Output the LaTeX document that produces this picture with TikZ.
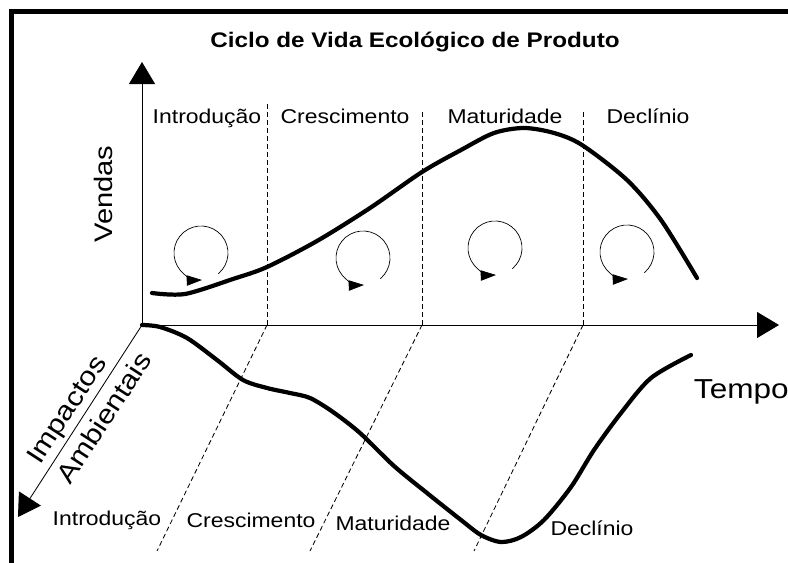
\documentclass[tikz,border=0pt]{standalone}
\usepackage{fontspec}
\setmainfont{Liberation Sans}[FakeStretch=1.15]
\usetikzlibrary{arrows.meta,calc}

\begin{document}
\begin{tikzpicture}[x=0.025cm,y=-0.025cm,
    axisArrow/.style={line width=0.6pt,-{Triangle[length=0.55cm,width=0.65cm]}},
    phaseLine/.style={line width=0.6pt,dash pattern=on 3.5pt off 2.2pt},
    cycleArrow/.style={line width=0.5pt,-{Triangle[length=0.38cm,width=0.26cm]}},
    lifeCurve/.style={line width=3pt,line cap=round,line join=round},
    phaseLabel/.style={font=\fontsize{14.2}{17}\selectfont,anchor=base},
    axisLabel/.style={font=\fontsize{19.5}{24}\selectfont}]

  \useasboundingbox (0,0) rectangle (788,563);

  % draw the frame
  \draw[line width=3.6pt] (11.5,600) -- (11.5,11.5) -- (820,11.5);

  % title
  \node[font=\fontsize{15}{18}\selectfont\bfseries,anchor=base] (title) at (415,48) {Ciclo de Vida Ecológico de Produto};

  % draw the axes
  \coordinate (O) at (142,325);
  \coordinate (salesEnd) at (142,62);
  \coordinate (timeEnd) at (779,325);
  \coordinate (impactEnd) at (18,517);
  \draw[axisArrow] (O) -- (salesEnd);
  \draw[axisArrow] (O) -- (timeEnd);
  \draw[axisArrow] (O) -- (impactEnd);

  \node[font=\fontsize{18}{21}\selectfont,rotate=90,anchor=base] (sales) at (112,194) {Vendas};
  \node[axisLabel,anchor=base west] (time) at (689,398) {Tempo};
  \node[font=\fontsize{18.8}{26}\selectfont,rotate=57,align=left] (impact) at (89,408) {Impactos\\Ambientais};

  % draw the phase borders
  \def\phases{267/104/157,422/112/310,583/112/474}
  \foreach \x/\ytop/\xb [count=\ni] in \phases
  {
    \coordinate (p\ni) at (\x,325);
    \draw[phaseLine] (\x,\ytop) -- (p\ni);
    \draw[phaseLine] (p\ni) -- (\xb,551);
  }

  % label the phases
  \def\topLabels{207/Introdução,345/Crescimento,505/Maturidade,648/Declínio}
  \foreach \x/\name [count=\ni] in \topLabels
    \node[phaseLabel] (top\ni) at (\x,124) {\name};

  \def\bottomLabels{107/525/Introdução,251/527/Crescimento,393/530/Maturidade,592/535/Declínio}
  \foreach \x/\y/\name [count=\ni] in \bottomLabels
    \node[phaseLabel] (bottom\ni) at (\x,\y) {\name};

  % sales curve
  \draw[lifeCurve] plot[smooth] coordinates {(152,293) (185,294) (233,279) (267,267) (317,241)
    (370,208) (422,172) (461,150) (494,133) (524,128) (554,133) (582,145) (627,180) (661,220) (697,278)};

  % impact curve
  \draw[lifeCurve] plot[smooth] coordinates {(142,325) (160,327) (187,338) (217,360) (243,380)
    (267,388) (290,393) (310,398) (333,412) (360,433) (394,466) (427,493) (461,520) (481,535)
    (501,542) (521,537) (544,520) (571,487) (594,450) (621,413) (651,378) (691,355)};

  % draw the cycles
  \def\cycles{201/253,363/258,495/248,627/252}
  \foreach \cx/\cy [count=\ni] in \cycles
  {
    \coordinate (c\ni) at (\cx,\cy);
    \draw[cycleArrow] (c\ni) ++(-50:0.675cm) arc[start angle=-50,end angle=272,radius=0.675cm];
  }

\end{tikzpicture}
\end{document}
